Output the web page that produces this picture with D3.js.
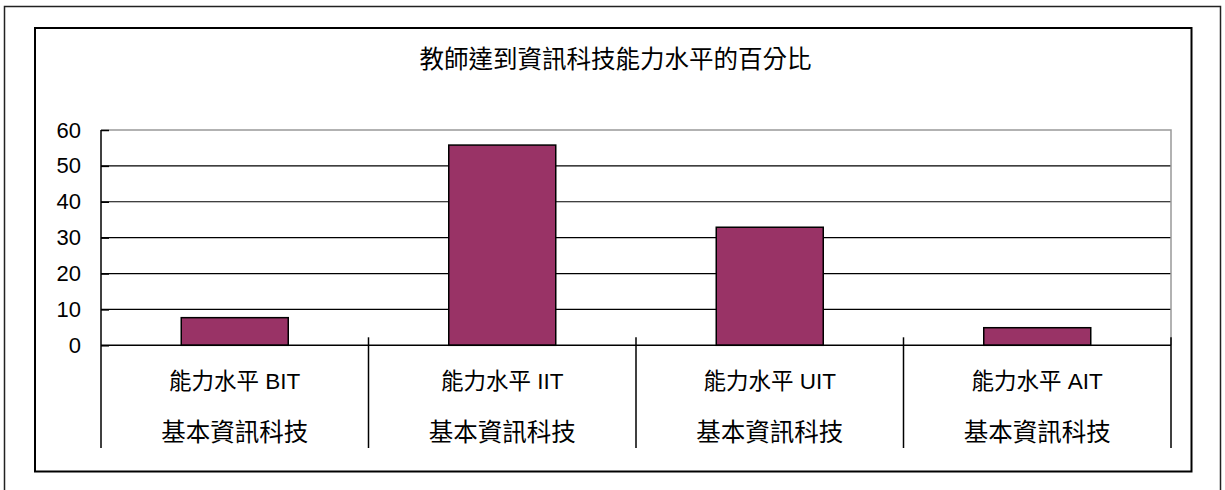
<!DOCTYPE html>
<html>
<head>
<meta charset="utf-8">
<script src="https://cdn.jsdelivr.net/npm/d3@7"></script>
<style>
  html, body { margin: 0; padding: 0; background: #fff; }
  svg { display: block; }
</style>
</head>
<body>
<svg id="chart" width="1225" height="490"></svg>
<script>
const title = "教師達到資訊科技能力水平的百分比";
const categories = ["BIT", "IIT", "UIT", "AIT"];
const labelLine1 = ["能力水平 BIT", "能力水平 IIT", "能力水平 UIT", "能力水平 AIT"];
const labelLine2 = ["基本資訊科技", "基本資訊科技", "基本資訊科技", "基本資訊科技"];
const values = [7.7, 55.8, 32.9, 4.9];
const yTicks = [0, 10, 20, 30, 40, 50, 60];

const svg = d3.select("#chart");
const plot = { left: 101, right: 1171, top: 130, bottom: 345.3 };
const cjk = "'Liberation Sans', Arial, 'Noto Sans CJK TC', sans-serif";

// outer border
svg.append("rect").attr("x", 4.5).attr("y", 6.5).attr("width", 1216).attr("height", 500)
  .attr("fill", "none").attr("stroke", "#222").attr("stroke-width", 1.5);
// inner chart border
svg.append("rect").attr("x", 35).attr("y", 28).attr("width", 1156.5).attr("height", 443.5)
  .attr("fill", "#fff").attr("stroke", "#000").attr("stroke-width", 2);

const x = d3.scaleBand().domain(categories).range([plot.left, plot.right]).padding(0);
const y = d3.scaleLinear().domain([0, 60]).range([plot.bottom, plot.top]);

// gridlines
svg.append("g").selectAll("line").data(yTicks.filter(d => d > 0 && d < 60)).join("line")
  .attr("x1", plot.left).attr("x2", plot.right)
  .attr("y1", d => y(d)).attr("y2", d => y(d))
  .attr("stroke", "#000").attr("stroke-width", 1.2);

// plot border top / right (grey)
svg.append("path")
  .attr("d", `M${plot.left},${y(60)}H${plot.right}V${plot.bottom}`)
  .attr("fill", "none").attr("stroke", "#999").attr("stroke-width", 1.5);

// bars
svg.append("g").selectAll("rect").data(values).join("rect")
  .attr("x", (d, i) => x(categories[i]) + x.bandwidth() * 0.3)
  .attr("width", x.bandwidth() * 0.4)
  .attr("y", d => y(d))
  .attr("height", d => y(0) - y(d))
  .attr("fill", "#993366").attr("stroke", "#000").attr("stroke-width", 1.5);

// y axis
const yAxis = d3.axisLeft(y).tickValues(yTicks).tickSize(-8).tickPadding(20).tickSizeOuter(0);
const yg = svg.append("g").attr("transform", `translate(${plot.left},0)`).call(yAxis);
yg.select(".domain").remove();
yg.selectAll(".tick line").attr("stroke", "#000").attr("stroke-width", 1.5);
yg.selectAll(".tick text").attr("font-family", "'Liberation Sans', Arial, sans-serif")
  .attr("font-size", 22).attr("fill", "#000");
// y axis line extending down through category area
svg.append("line").attr("x1", plot.left).attr("x2", plot.left)
  .attr("y1", y(60)).attr("y2", 448).attr("stroke", "#000").attr("stroke-width", 1.5);

// x axis baseline
svg.append("line").attr("x1", plot.left).attr("x2", plot.right)
  .attr("y1", y(0)).attr("y2", y(0)).attr("stroke", "#000").attr("stroke-width", 1.5);

// category separators
const bounds = categories.map(c => x(c)).concat([x(categories[categories.length - 1]) + x.bandwidth()]);
svg.append("g").selectAll("line").data(bounds.slice(1)).join("line")
  .attr("x1", d => d).attr("x2", d => d)
  .attr("y1", y(0) - 8).attr("y2", 448)
  .attr("stroke", "#000").attr("stroke-width", 1.5);

// category labels
svg.append("g").selectAll("text").data(labelLine1).join("text")
  .attr("x", (d, i) => x(categories[i]) + x.bandwidth() / 2)
  .attr("y", 389)
  .attr("text-anchor", "middle")
  .attr("font-family", cjk).attr("font-size", 22.5).attr("fill", "#000")
  .text(d => d);
svg.append("g").selectAll("text").data(labelLine2).join("text")
  .attr("x", (d, i) => x(categories[i]) + x.bandwidth() / 2)
  .attr("y", 440.5)
  .attr("text-anchor", "middle")
  .attr("font-family", cjk).attr("font-size", 24.5).attr("fill", "#000")
  .text(d => d);

// title
svg.append("text").attr("x", 615.5).attr("y", 68)
  .attr("text-anchor", "middle")
  .attr("font-family", cjk).attr("font-size", 24.5).attr("fill", "#000")
  .text(title);
</script>
</body>
</html>
